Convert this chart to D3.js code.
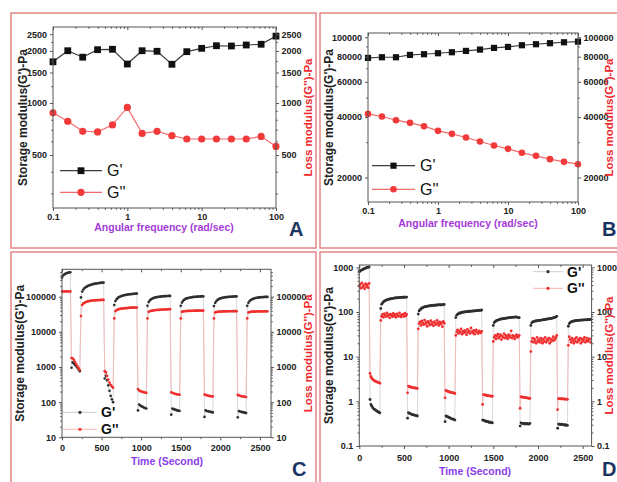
<!DOCTYPE html>
<html><head><meta charset="utf-8">
<script src="https://cdn.jsdelivr.net/npm/d3@7"></script>
<style>body{margin:0;background:#fff} svg text{font-family:"Liberation Sans",Arial,sans-serif}</style>
</head><body><svg id="c" width="617" height="482"></svg>
<script>
// ---------- DATA ----------
// Panel A (frequency sweep 1)
const freq = [0.1,0.158,0.251,0.398,0.631,1,1.58,2.51,3.98,6.31,10,15.8,25.1,39.8,63.1,100];
const gpA  = [1730,2005,1840,2033,2044,1680,2005,1990,1674,1980,2070,2143,2135,2164,2185,2435];
const gppA = [877,784,686,680,747,942,667,686,647,619,619,619,619,619,641,561];
// Panel B (frequency sweep 2)
const gpB  = [78900,79500,79500,81660,82300,83250,84200,85500,86800,88500,89500,91250,92300,93400,94400,95100];
const gppB = [41500,40270,38600,37450,36040,34160,33010,31650,30220,28870,27790,26550,25650,24690,23930,23300];
// Panel C (step strain, sampled every 15 s)
const timeC = d3.range(0, 2600, 15);
const gpC = [
 350000,400000,430000,450000,465000,478000,488000,495000,
 950,1350,1250,1150,1050,950,850,760,
 95000,140000,160000,175000,185000,195000,203000,210000,216000,221000,226000,230000,234000,237000,240000,243000,246000,248000,250000,252000,
 470,560,420,300,210,150,120,100,
 58000,75000,85000,92000,97000,101000,104000,107000,109000,111000,113000,114500,116000,117000,118000,119000,120000,121000,121500,122000,
 58,85,80,76,73,70,68,66,
 55000,70000,78000,84000,88000,91000,93500,95500,97000,98500,99500,100500,101500,102000,103000,103500,104000,104500,105000,105000,
 44,66,63,61,60,58,57,56,
 55000,68000,76000,82000,86000,89000,91000,93000,94500,96000,97000,98000,98800,99500,100000,100500,101000,101500,102000,102000,
 38,58,56,55,54,53,52,51,
 54000,67000,75000,81000,85000,88000,90500,92500,94000,95500,96500,97500,98300,99000,99500,100000,100500,101000,101500,102000,
 37,56,54,53,52,51,50,49,
 55000,67000,75000,80000,84000,87000,89500,91500,93000,94000,95000,96000,96500,97000,97500,98000,98000,98500];
const gppC = [
 140000,141000,141000,140000,141000,140000,140000,141000,
 1800,1750,1600,1400,1200,1050,920,820,
 28000,58000,64000,67000,70000,72000,73500,75000,76000,77000,77500,78000,78500,79000,79500,80000,80000,80500,81000,81000,
 760,700,560,440,360,310,280,255,
 24000,39000,41500,43000,44000,45000,45500,46000,46500,47000,47500,47500,48000,48000,48500,48500,49000,49000,49000,49000,
 235,215,205,200,195,190,187,183,
 24000,37000,38500,39500,40000,40500,41000,41500,41800,42000,42200,42500,42800,43000,43200,43400,43500,43700,43800,44000,
 190,185,178,173,170,167,165,162,
 24000,37000,38000,38500,38800,39000,39200,39400,39500,39600,39700,39800,39900,40000,40000,40000,40100,40100,40200,40200,
 165,160,156,153,150,148,147,145,
 24000,35500,36500,37000,37300,37500,37700,37900,38000,38100,38200,38300,38400,38400,38500,38500,38600,38600,38700,38700,
 160,155,151,148,146,144,142,140,
 24000,35500,36500,37000,37300,37500,37600,37700,37800,37900,38000,38000,38100,38100,38200,38200,38300,38300];
// Panel D (step strain, sampled every 10 s)
const timeD = d3.range(0, 2600, 10);
const gpD = [
 800,830,860,880,900,920,940,960,980,1000,1010,1020,
 1.1,0.85,0.78,0.72,0.68,0.66,0.64,0.62,0.6,0.58,0.57,0.55,
 120,150,160,168,175,180,184,188,190,193,196,198,200,202,203,205,206,207,208,209,210,211,212,212,213,214,214,215,215,216,
 0.42,0.56,0.54,0.53,0.52,0.51,0.5,0.5,0.49,0.48,0.48,0.47,
 90,106,113,117,123,124,129,130,133,132,136,135,138,137,140,139,141,142,140,143,144,142,145,144,146,143,147,145,146,148,
 0.35,0.47,0.46,0.45,0.44,0.43,0.42,0.41,0.4,0.4,0.39,0.38,
 75,85,90,91,95,94,97,99,98,101,100,102,101,103,102,104,103,105,104,106,105,107,106,108,107,109,108,110,109,111,
 0.38,0.38,0.37,0.36,0.36,0.35,0.35,0.34,0.34,0.34,0.33,0.33,
 50,58,61,63,65,66,67,68,69,70,70,71,72,72,73,73,74,74,75,75,76,76,77,76,77,78,77,76,75,75,
 0.28,0.33,0.32,0.32,0.32,0.31,0.32,0.31,0.32,0.31,0.31,0.32,
 50,57,60,61,62,63,63,64,64,65,65,66,66,67,67,68,68,69,69,70,70,71,72,72,73,74,75,76,78,80,
 0.25,0.31,0.31,0.3,0.31,0.3,0.3,0.3,0.29,0.3,0.29,0.29,
 48,55,58,60,61,62,63,63,64,64,65,65,65,66,66,66,66,67,67,67,67,67,68,68,68,68];
const gppD = [
 380,420,340,450,360,400,330,430,370,410,350,440,
 4.2,3.6,3.3,3.1,3.0,2.9,2.8,2.75,2.7,2.65,2.6,2.55,
 65,80,88,76,92,84,79,95,82,87,74,90,85,78,93,81,88,76,91,84,80,96,83,77,89,86,79,94,82,88,
 1.55,2.2,2.15,2.1,2.07,2.05,2.03,2.0,2.0,1.98,1.97,1.95,
 42,55,60,50,63,57,52,66,54,59,48,62,56,51,64,53,58,49,61,55,52,65,57,50,60,54,58,47,62,56,
 1.2,1.75,1.72,1.68,1.65,1.62,1.6,1.58,1.56,1.55,1.53,1.5,
 30,36,40,33,38,35,42,32,37,34,39,36,31,41,35,38,33,44,36,34,39,32,37,40,35,33,38,36,34,37,
 0.85,1.42,1.4,1.38,1.37,1.35,1.34,1.33,1.32,1.31,1.3,1.3,
 22,27,30,25,29,32,26,28,31,24,29,27,33,26,30,28,25,31,27,29,38,26,30,28,25,29,31,27,28,30,
 0.7,1.26,1.25,1.24,1.23,1.22,1.21,1.2,1.19,1.18,1.17,1.16,
 13,22,26,21,25,23,20,27,22,24,21,26,23,20,25,22,27,21,24,23,26,20,25,22,24,28,23,25,27,30,
 0.65,1.15,1.15,1.14,1.14,1.13,1.13,1.13,1.12,1.12,1.12,1.11,
 18,28,24,21,26,23,20,25,22,27,21,24,23,26,20,25,22,24,27,21,23,26,22,24,25,21];

// tick labels
const freqTicks = [0.1,1,10,100];
const yTicksA = [500,1000,1500,2000,2500];
const yTicksB = [20000,40000,60000,80000,100000];
const yTicksC = [10,100,1000,10000,100000];
const yTicksD = [0.1,1,10,100,1000];
const timeTicks = [0,500,1000,1500,2000,2500];
const labelsPanel = ["A","B","C","D"];

// ---------- DRAW ----------
const svg = d3.select('#c');
const FONT = '"Liberation Sans", Arial, sans-serif';
const FRAME = '#e27d7d';
const BK = '#2f2f2f', RD = '#ef2f2f';

[[11,13,305,235],[320,13,310,235],[11,252,305,250],[320,252,310,250]].forEach(r=>{
  svg.append('rect').attr('x',r[0]).attr('y',r[1]).attr('width',r[2]).attr('height',r[3])
    .attr('fill','none').attr('stroke',FRAME).attr('stroke-width',1.4);
});

function logMinor(lo, hi){
  const out=[]; for(let e=-2;e<7;e++){ for(let m=2;m<10;m++){ const v=m*Math.pow(10,e); if(v>lo&&v<hi) out.push(v);} } return out;
}

function panel(c){
  const g = svg.append('g');
  const x=c.x, y=c.y;
  const [x0,x1]=x.range(), [y1,y0]=y.range();
  const cid='clip'+c.id;
  svg.append('clipPath').attr('id',cid).append('rect').attr('x',x0-4).attr('y',y0-4).attr('width',x1-x0+8).attr('height',y1-y0+8);
  const dg=g.append('g').attr('clip-path',`url(#${cid})`);
  c.draw(dg,x,y);
  g.append('rect').attr('x',x0).attr('y',y0).attr('width',x1-x0).attr('height',y1-y0)
    .attr('fill','none').attr('stroke','#555').attr('stroke-width',1);
  const ax=(gen,tr)=>{const a=g.append('g').attr('transform',tr).call(gen);a.select('.domain').remove();
    a.selectAll('line').attr('stroke','#555');
    a.selectAll('text').attr('font-size',9).attr('font-weight','bold').attr('fill','#222').attr('font-family',FONT);return a;};
  const none=()=> '';
  ax(d3.axisBottom(x).tickValues(c.xTicks).tickFormat(c.xFmt).tickSize(3).tickPadding(c.xPad),`translate(0,${y1})`);
  ax(d3.axisBottom(x).tickValues(c.xMinor).tickFormat(none).tickSize(1.8),`translate(0,${y1})`);
  ax(d3.axisTop(x).tickValues(c.xTicks).tickFormat(none).tickSize(-3),`translate(0,${y0})`);
  ax(d3.axisTop(x).tickValues(c.xMinor).tickFormat(none).tickSize(-1.8),`translate(0,${y0})`);
  ax(d3.axisLeft(y).tickValues(c.yTicks).tickFormat(c.yFmt).tickSize(3).tickPadding(3),`translate(${x0},0)`);
  ax(d3.axisLeft(y).tickValues(c.yMinor).tickFormat(none).tickSize(1.8),`translate(${x0},0)`);
  ax(d3.axisRight(y).tickValues(c.yTicks).tickFormat(c.yFmt).tickSize(3).tickPadding(2.5),`translate(${x1},0)`);
  ax(d3.axisRight(y).tickValues(c.yMinor).tickFormat(none).tickSize(1.8),`translate(${x1},0)`);
  const yc=(y0+y1)/2;
  g.append('text').attr('transform',`translate(${c.ltx},${yc}) rotate(-90)`).attr('text-anchor','middle')
    .attr('dominant-baseline','central').attr('font-size',12).attr('font-weight','bold').attr('fill','#222')
    .text("Storage modulus(G')-Pa");
  g.append('text').attr('transform',`translate(${c.rtx},${yc}) rotate(-90)`).attr('text-anchor','middle')
    .attr('dominant-baseline','central').attr('font-size',11.5).attr('font-weight','bold').attr('fill','#f0282d')
    .text("Loss modulus(G'')-Pa");
  g.append('text').attr('x',c.xtx).attr('y',c.xty).attr('text-anchor','middle').attr('font-size',10.5)
    .attr('font-weight','bold').attr('fill',c.xtCol).text(c.xTitle);
  g.append('text').attr('x',c.lbx).attr('y',c.lby).attr('font-size',20).attr('font-weight','bold')
    .attr('fill','#1b3563').text(c.label);
}

const fmtInt = d=>String(d);
function freqPanel(id, xr, yr, ydom, yTicks, yMinor, gp, gpp, lg, ltx, rtx, xty, xtx, lbx, lby, label, msz){
  const x=d3.scaleLog().domain([0.1,100]).range(xr);
  const y=d3.scaleLog().domain(ydom).range(yr);
  panel({id,x,y,xTicks:freqTicks,xMinor:logMinor(0.1,100),xFmt:d=>String(d),xPad:3,
    yTicks,yMinor,yFmt:fmtInt,ltx,rtx,xtx,xty,xtCol:'#a43ad8',xTitle:'Angular frequency (rad/sec)',
    lbx,lby,label,
    draw:(g,x,y)=>{
      const line=d3.line().x((d,i)=>x(freq[i])).y(d=>y(d));
      g.append('path').attr('d',line(gp)).attr('fill','none').attr('stroke','#3c3c3c').attr('stroke-width',1.2);
      g.append('path').attr('d',line(gpp)).attr('fill','none').attr('stroke','#f26a6a').attr('stroke-width',1.2);
      g.selectAll('rect.m').data(gp).join('rect').attr('x',(d,i)=>x(freq[i])-msz/2).attr('y',d=>y(d)-msz/2)
        .attr('width',msz).attr('height',msz).attr('fill','#111');
      g.selectAll('circle.m').data(gpp).join('circle').attr('cx',(d,i)=>x(freq[i])).attr('cy',d=>y(d))
        .attr('r',msz/2+0.2).attr('fill','#f23a3a');
    }});
  const L=svg.append('g');
  L.append('line').attr('x1',lg.x1).attr('x2',lg.x2).attr('y1',lg.y1).attr('y2',lg.y1).attr('stroke','#3c3c3c').attr('stroke-width',1.2);
  L.append('rect').attr('x',(lg.x1+lg.x2)/2-msz/2).attr('y',lg.y1-msz/2).attr('width',msz).attr('height',msz).attr('fill','#111');
  L.append('line').attr('x1',lg.x1).attr('x2',lg.x2).attr('y1',lg.y2).attr('y2',lg.y2).attr('stroke','#f26a6a').attr('stroke-width',1.2);
  L.append('circle').attr('cx',(lg.x1+lg.x2)/2).attr('cy',lg.y2).attr('r',msz/2+0.2).attr('fill','#f23a3a');
  L.append('text').attr('x',lg.x2+5).attr('y',lg.y1).attr('dominant-baseline','central').attr('font-size',16).attr('fill','#111').text("G'");
  L.append('text').attr('x',lg.x2+5).attr('y',lg.y2).attr('dominant-baseline','central').attr('font-size',16).attr('fill','#111').text("G''");
}

freqPanel('A',[53,276],[208,27],[247,2750],yTicksA,[300,400,600,700,800,900,1250,1750,2250],gpA,gppA,
  {x1:60,x2:102,y1:170.7,y2:192.3},22.5,308,231,164,289,236,labelsPanel[0],6.8);
freqPanel('B',[368,578],[202,33],[15100,105000],yTicksB,[30000,50000,70000,90000],gpB,gppB,
  {x1:372,x2:415,y1:165.7,y2:189.3},329,609,227,468,602,236,labelsPanel[1],6.2);

function timePanel(id, xr, yr, ydom, yTicks, yFmt, time, gp, gpp, lg, ltx, rtx, xty, xtx, xPad, lbx, lby, label, r){
  const x=d3.scaleLinear().domain([0,xr[2]]).range([xr[0],xr[1]]);
  const y=d3.scaleLog().domain(ydom).range(yr);
  panel({id,x,y,xTicks:timeTicks,xMinor:[250,750,1250,1750,2250],xFmt:d=>String(d),xPad,
    yTicks,yMinor:logMinor(ydom[0],ydom[1]),yFmt,ltx,rtx,xtx,xty,xtCol:'#8a3ee8',xTitle:'Time (Second)',
    lbx,lby,label,
    draw:(g,x,y)=>{
      const line=d3.line().x((d,i)=>x(time[i])).y(d=>y(d));
      g.append('path').attr('d',line(gp)).attr('fill','none').attr('stroke','#cfcfcf').attr('stroke-width',0.8);
      g.append('path').attr('d',line(gpp)).attr('fill','none').attr('stroke','#f8b4b4').attr('stroke-width',0.8);
      g.selectAll('circle.a').data(gp).join('circle').attr('cx',(d,i)=>x(time[i])).attr('cy',d=>y(d)).attr('r',r).attr('fill',BK);
      g.selectAll('circle.b').data(gpp).join('circle').attr('class','b').attr('cx',(d,i)=>x(time[i])).attr('cy',d=>y(d)).attr('r',r).attr('fill',RD);
    }});
  const L=svg.append('g');
  L.append('line').attr('x1',lg.x1).attr('x2',lg.x2).attr('y1',lg.y1).attr('y2',lg.y1).attr('stroke','#cfcfcf').attr('stroke-width',1);
  L.append('circle').attr('cx',(lg.x1+lg.x2)/2).attr('cy',lg.y1).attr('r',1.6).attr('fill',BK);
  L.append('line').attr('x1',lg.x1).attr('x2',lg.x2).attr('y1',lg.y2).attr('y2',lg.y2).attr('stroke','#f8b4b4').attr('stroke-width',1);
  L.append('circle').attr('cx',(lg.x1+lg.x2)/2).attr('cy',lg.y2).attr('r',1.6).attr('fill',RD);
  L.append('text').attr('x',lg.x2+4).attr('y',lg.y1).attr('dominant-baseline','central').attr('font-size',14).attr('font-weight','bold').attr('fill','#111').text("G'");
  L.append('text').attr('x',lg.x2+4).attr('y',lg.y2).attr('dominant-baseline','central').attr('font-size',14).attr('font-weight','bold').attr('fill','#111').text("G''");
}

timePanel('C',[62,271,2640],[437.3,269.3],[10,600000],yTicksC,fmtInt,timeC,gpC,gppC,
  {x1:63,x2:97,y1:412.3,y2:429.3},20,308,465,167,4,292,476,labelsPanel[2],1.35);
timePanel('D',[359.3,591.6,2600],[446,265],[0.1,1130],yTicksD,d=>String(d),timeD,gpD,gppD,
  {x1:533,x2:563,y1:271.7,y2:288.3},329,609,475,475,6,602,476,labelsPanel[3],1.4);
</script>
</body></html>
